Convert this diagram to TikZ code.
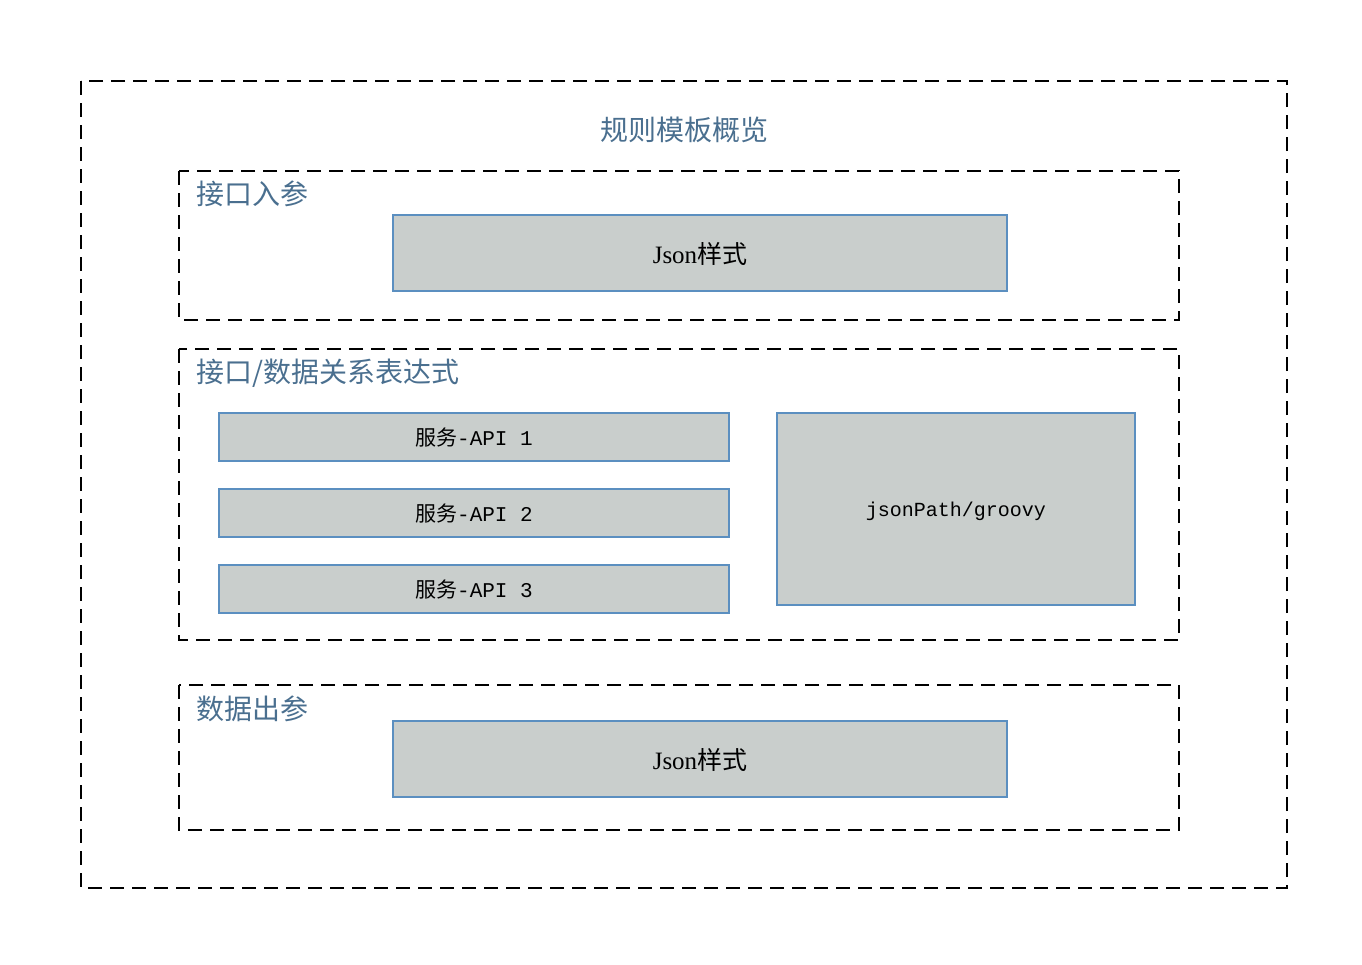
\documentclass[tikz,border=0pt]{standalone}
\usepackage{fontspec}
\setmainfont{Liberation Serif}
\setmonofont{Liberation Mono}
\newfontfamily\cjk{Noto Sans CJK SC}
\definecolor{labelBlue}{HTML}{4A6F8F}
\definecolor{boxFill}{HTML}{C9CECC}
\definecolor{boxLine}{HTML}{5B8FC0}
\begin{document}
\begin{tikzpicture}
[x=1pt,y=-1pt,
  groupDecorate/.style={draw=black,line width=1.6pt,dash pattern=on 14pt off 8pt},
  boxDecorate/.style={draw=boxLine,line width=1.8pt,fill=boxFill},
  labelDecorate/.style={text=labelBlue,font=\cjk\fontsize{28}{32}\selectfont,inner sep=0pt},
  textDecorate/.style={font=\fontsize{21}{24}\selectfont,inner sep=0pt}]
\useasboundingbox (0,0) rectangle (1362,964);
%% dashed groups
\draw[groupDecorate] (81,81) rectangle (1287,888);
\draw[groupDecorate] (179,171) rectangle (1179,320);
\draw[groupDecorate] (179,349) rectangle (1179,640);
\draw[groupDecorate] (179,685) rectangle (1179,830);
%% group titles
\node (title) at (684,130) [labelDecorate] {规则模板概览};
\node (inLabel) at (196,194) [labelDecorate,anchor=west] {接口入参};
\node (relLabel) at (196,373) [labelDecorate,anchor=west] {接口/数据关系表达式};
\node (outLabel) at (196,709) [labelDecorate,anchor=west] {数据出参};
%% boxes
\draw[boxDecorate] (393,215) rectangle (1007,291);
\node (inJson) at (700,254) [textDecorate,font=\fontsize{25}{28}\selectfont] {Json{\cjk 样式}};
\foreach \n/\y in {1/413, 2/489, 3/565}
{
  \draw[boxDecorate] (219,\y) rectangle (729,\y+48);
  \node (api\n) at (474,\y+25) [textDecorate] {{\cjk 服务}\texttt{-API \n}};
}
\draw[boxDecorate] (777,413) rectangle (1135,605);
\node (expr) at (956,511) [textDecorate,font=\fontsize{20}{24}\selectfont] {\texttt{jsonPath/groovy}};
\draw[boxDecorate] (393,721) rectangle (1007,797);
\node (outJson) at (700,760) [textDecorate,font=\fontsize{25}{28}\selectfont] {Json{\cjk 样式}};
\end{tikzpicture}
\end{document}
